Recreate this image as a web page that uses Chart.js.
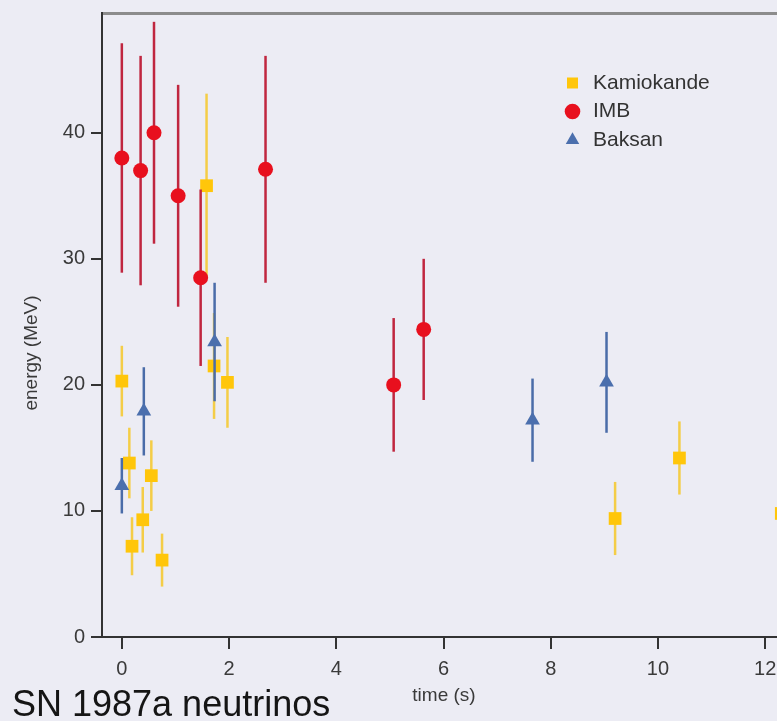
<!DOCTYPE html>
<html>
<head>
<meta charset="utf-8">
<title>SN 1987a neutrinos</title>
<script src="https://cdn.jsdelivr.net/npm/chart.js@4/dist/chart.umd.min.js"></script>
<style>
  html, body { margin: 0; padding: 0; background: #ECECF4; overflow: hidden; }
  #wrap { position: relative; width: 860px; height: 721px; }
</style>
</head>
<body>
<div id="wrap"><canvas id="chart" width="860" height="721"></canvas></div>
<script>
// Neutrino events from SN 1987a: arrival time (s), energy (MeV), energy uncertainty (MeV)
const kamiokandeTime   = [0.00, 0.14, 0.19, 0.39, 0.55, 0.75, 1.58, 1.72, 1.97, 9.20, 10.40, 12.30];
const kamiokandeEnergy = [20.3, 13.8, 7.2, 9.3, 12.8, 6.1, 35.8, 21.5, 20.2, 9.4, 14.2, 9.8];
const kamiokandeError  = [2.8, 2.8, 2.3, 2.6, 2.8, 2.1, 7.3, 4.2, 3.6, 2.9, 2.9, 2.0];

const imbTime   = [0.00, 0.35, 0.60, 1.05, 1.47, 2.68, 5.07, 5.63];
const imbEnergy = [38.0, 37.0, 40.0, 35.0, 28.5, 37.1, 20.0, 24.4];
const imbError  = [9.1, 9.1, 8.8, 8.8, 7.0, 9.0, 5.3, 5.6];

const baksanTime   = [0.00, 0.41, 1.73, 7.66, 9.04];
const baksanEnergy = [12.0, 17.9, 23.4, 17.2, 20.2];
const baksanError  = [2.2, 3.5, 4.7, 3.3, 4.0];

const seriesNames = ['Kamiokande', 'IMB', 'Baksan'];
const xAxisTitle = 'time (s)';
const yAxisTitle = 'energy (MeV)';
const chartTitle = 'SN 1987a neutrinos';

// Axis ranges and tick steps
const X_MIN = -0.37, X_MAX = 13.6, X_STEP = 2;
const Y_MIN = 0, Y_MAX = 49.5, Y_STEP = 10;

const FONT = "'Liberation Sans', Arial, Helvetica, sans-serif";
Chart.defaults.font.family = FONT;

const toPoints = (xs, ys) => xs.map((x, i) => ({ x: x, y: ys[i] }));

// Vertical uncertainty bars, drawn right before each dataset's markers
const errorBars = {
  id: 'errorBars',
  beforeDatasetDraw(chart, args) {
    const ds = chart.data.datasets[args.index];
    if (!ds.errors) return;
    const xs = chart.scales.x, ys = chart.scales.y, a = chart.chartArea;
    const ctx = chart.ctx;
    ctx.save();
    ctx.beginPath();
    ctx.rect(a.left, a.top, a.right - a.left, a.bottom - a.top);
    ctx.clip();
    ctx.strokeStyle = ds.errorColor;
    ctx.lineWidth = 2.5;
    ds.data.forEach((p, i) => {
      const px = xs.getPixelForValue(p.x);
      ctx.beginPath();
      ctx.moveTo(px, ys.getPixelForValue(p.y - ds.errors[i]));
      ctx.lineTo(px, ys.getPixelForValue(p.y + ds.errors[i]));
      ctx.stroke();
    });
    ctx.restore();
  }
};

// Places the legend block in the upper right part of the plot
const legendSpot = {
  id: 'legendSpot',
  afterLayout(chart) {
    const lg = chart.legend;
    if (!lg) return;
    const left = 555, top = 65;
    lg.left = left; lg.right = left + 200;
    lg.top = top; lg.bottom = top + 120;
    lg.width = 200; lg.height = 120;
  }
};

// Axis titles and the caption under the plot
const captions = {
  id: 'captions',
  afterDraw(chart) {
    const ctx = chart.ctx;
    ctx.save();
    ctx.fillStyle = '#3a3a3a';
    ctx.font = '19px ' + FONT;
    ctx.textAlign = 'center';
    ctx.textBaseline = 'alphabetic';
    ctx.fillText(xAxisTitle, 444, 701);
    ctx.save();
    ctx.translate(37, 353);
    ctx.rotate(-Math.PI / 2);
    ctx.fillText(yAxisTitle, 0, 0);
    ctx.restore();
    ctx.fillStyle = '#151515';
    ctx.font = '36px ' + FONT;
    ctx.textAlign = 'left';
    ctx.fillText(chartTitle, 12, 716);
    ctx.restore();
  }
};

const axisColor = '#333333';

new Chart(document.getElementById('chart'), {
  type: 'scatter',
  data: {
    datasets: [
      {
        label: seriesNames[0],
        data: toPoints(kamiokandeTime, kamiokandeEnergy),
        errors: kamiokandeError,
        errorColor: 'rgba(246, 200, 40, 0.85)',
        pointStyle: 'rect',
        pointRadius: 9,
        pointHoverRadius: 9,
        backgroundColor: '#FFC60A',
        borderColor: '#FFC60A',
        borderWidth: 0,
        order: 3
      },
      {
        label: seriesNames[1],
        data: toPoints(imbTime, imbEnergy),
        errors: imbError,
        errorColor: '#C0263F',
        pointStyle: 'circle',
        pointRadius: 7.5,
        pointHoverRadius: 7.5,
        backgroundColor: '#E8101E',
        borderColor: '#E8101E',
        borderWidth: 0,
        order: 2
      },
      {
        label: seriesNames[2],
        data: toPoints(baksanTime, baksanEnergy),
        errors: baksanError,
        errorColor: '#4A6CA8',
        pointStyle: 'triangle',
        pointRadius: 8.5,
        pointHoverRadius: 8.5,
        backgroundColor: '#4B6FAD',
        borderColor: '#4B6FAD',
        borderWidth: 0,
        order: 1
      }
    ]
  },
  options: {
    responsive: false,
    animation: false,
    events: [],
    layout: { padding: { top: 13, left: 0, right: 0, bottom: 0 } },
    scales: {
      x: {
        type: 'linear',
        position: 'bottom',
        min: X_MIN,
        max: X_MAX,
        ticks: {
          stepSize: X_STEP,
          includeBounds: false,
          autoSkip: false,
          maxRotation: 0,
          color: '#3a3a3a',
          font: { size: 20 },
          padding: 8
        },
        grid: { drawOnChartArea: false, drawTicks: true, tickLength: 12, color: axisColor, lineWidth: 2 },
        border: { display: true, color: axisColor, width: 2 },
        afterFit(s) { s.height = 84; s.paddingLeft = 0; s.paddingRight = 0; }
      },
      x2: {
        type: 'linear',
        position: 'top',
        min: X_MIN,
        max: X_MAX,
        ticks: { display: false },
        grid: { display: false, drawTicks: false },
        border: { display: true, color: '#8C8C8C', width: 3 },
        afterFit(s) { s.height = 0; s.paddingLeft = 0; s.paddingRight = 0; }
      },
      y: {
        type: 'linear',
        position: 'left',
        min: Y_MIN,
        max: Y_MAX,
        ticks: {
          stepSize: Y_STEP,
          includeBounds: false,
          color: '#3a3a3a',
          font: { size: 20 },
          padding: 6
        },
        grid: { drawOnChartArea: false, drawTicks: true, tickLength: 11, color: axisColor, lineWidth: 2 },
        border: { display: true, color: axisColor, width: 2 },
        afterFit(s) { s.width = 102; s.paddingTop = 0; s.paddingBottom = 0; }
      }
    },
    plugins: {
      title: { display: false },
      tooltip: { enabled: false },
      legend: {
        display: true,
        position: 'chartArea',
        align: 'start',
        labels: {
          usePointStyle: true,
          boxWidth: 20,
          boxHeight: 11,
          padding: 7.5,
          color: '#333333',
          font: { size: 21 },
          sort: (a, b) => a.datasetIndex - b.datasetIndex
        }
      }
    }
  },
  plugins: [errorBars, legendSpot, captions]
});
</script>
</body>
</html>
